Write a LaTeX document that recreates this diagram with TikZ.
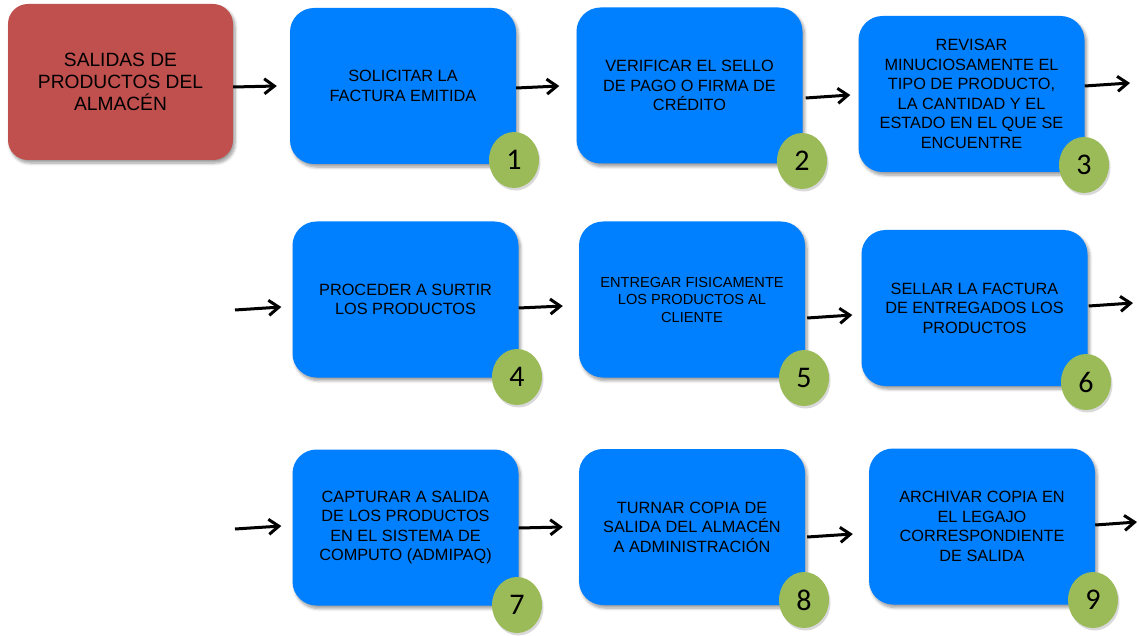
\documentclass[tikz,border=0pt]{standalone}
\usepackage{fontspec}
\setmainfont{Liberation Sans}
\newfontfamily\numfont{Carlito}
\usetikzlibrary{arrows.meta,calc,shapes.geometric,shadows,shadows.blur}
\definecolor{startred}{HTML}{C0504D}
\definecolor{stepblue}{HTML}{0080FF}
\definecolor{numgreen}{HTML}{9BBB59}
\begin{document}
\begin{tikzpicture}[x=1pt,y=-1pt,
  softshadow/.style={blur shadow={shadow xshift=2pt, shadow yshift=-3pt,
      shadow opacity=40, shadow blur steps=6, shadow blur radius=3pt}},
  startbox/.style={rectangle, rounded corners=20pt, fill=startred,
      minimum width=225pt, minimum height=156pt, inner sep=0pt, align=center,
      font=\fontsize{19.2}{22}\selectfont, softshadow},
  stepbox/.style={rectangle, rounded corners=24pt, fill=stepblue,
      minimum width=226pt, minimum height=156pt, inner sep=0pt, align=center,
      font=\fontsize{16.3}{19.5}\selectfont, softshadow},
  numdot/.style={ellipse, fill=numgreen, minimum width=50pt, minimum height=56pt,
      inner sep=0pt, font=\numfont\fontsize{30}{30}\selectfont,
      drop shadow={shadow xshift=1.5pt, shadow yshift=-2.5pt, opacity=0.3}},
  arr/.style={line width=3pt, -{Straight Barb[length=10pt,width=15pt]}}]
\useasboundingbox (0,0) rectangle (1139,636);

% process boxes
\node[startbox] (s) at (120.5,82) {SALIDAS DE\\PRODUCTOS DEL\\ALMACÉN};
\node[stepbox] (b1) at (403,86) {SOLICITAR LA\\FACTURA EMITIDA};
\node[stepbox] (b2) at (689.5,85.5) {VERIFICAR EL SELLO\\DE PAGO O FIRMA DE\\CRÉDITO};
\node[stepbox] (b3) at (971.5,94) {REVISAR\\MINUCIOSAMENTE EL\\TIPO DE PRODUCTO,\\LA CANTIDAD Y EL\\ESTADO EN EL QUE SE\\ENCUENTRE};
\node[stepbox] (b4) at (405.5,299.5) {PROCEDER A SURTIR\\LOS PRODUCTOS};
\node[stepbox, font=\fontsize{14.6}{17.5}\selectfont] (b5) at (692,299.5) {ENTREGAR FISICAMENTE\\LOS PRODUCTOS AL\\CLIENTE};
\node[stepbox] (b6) at (974.5,308) {SELLAR LA FACTURA\\DE ENTREGADOS LOS\\PRODUCTOS};
\node[stepbox] (b7) at (405.5,527.5) {CAPTURAR A SALIDA\\DE LOS PRODUCTOS\\EN EL SISTEMA DE\\COMPUTO (ADMIPAQ)};
\node[stepbox] (b8) at (692,527) {TURNAR COPIA DE\\SALIDA DEL ALMACÉN\\A ADMINISTRACIÓN};
\node[stepbox] (b9) at (982,526.5) {ARCHIVAR COPIA EN\\EL LEGAJO\\CORRESPONDIENTE\\DE SALIDA};

% step numbers
\node[numdot] (n1) at (514,160) {1};
\node[numdot] (n2) at (802,161) {2};
\node[numdot] (n3) at (1084,165) {3};
\node[numdot] (n4) at (517,377) {4};
\node[numdot] (n5) at (804,378) {5};
\node[numdot] (n6) at (1086,382) {6};
\node[numdot] (n7) at (517,605) {7};
\node[numdot] (n8) at (804,600) {8};
\node[numdot] (n9) at (1093,600) {9};

% loose arrow ends at the row edges
\coordinate (e1) at (1130,83);
\coordinate (f2) at (235,310);
\coordinate (e2) at (1133,303);
\coordinate (f3) at (235,529);
\coordinate (e3) at (1137,522);

% flow arrows
\draw[arr] ($(s.east)+(0,5)$) -- ($(b1.west)+(-13,0)$);
\draw[arr] ($(b1.east)+(0,2)$) -- ($(b2.west)+(-17,0.5)$);
\draw[arr] ($(b2.east)+(3,12.5)$) -- ($(b3.west)+(-8,1)$);
\draw[arr] ($(b3.east)+(0,-8)$) -- (e1);
\draw[arr] (f2) -- ($(b4.west)+(-11,7.5)$);
\draw[arr] ($(b4.east)+(0,8.5)$) -- ($(b5.west)+(-16,6.5)$);
\draw[arr] ($(b5.east)+(2,18.5)$) -- ($(b6.west)+(-9,7)$);
\draw[arr] ($(b6.east)+(1,-2)$) -- (e2);
\draw[arr] (f3) -- ($(b7.west)+(-11,-1.5)$);
\draw[arr] ($(b7.east)+(0,0.5)$) -- ($(b8.west)+(-16,0)$);
\draw[arr] ($(b8.east)+(2,10)$) -- ($(b9.west)+(-16,7.5)$);
\draw[arr] ($(b9.east)+(0,-1.5)$) -- (e3);
\end{tikzpicture}
\end{document}
